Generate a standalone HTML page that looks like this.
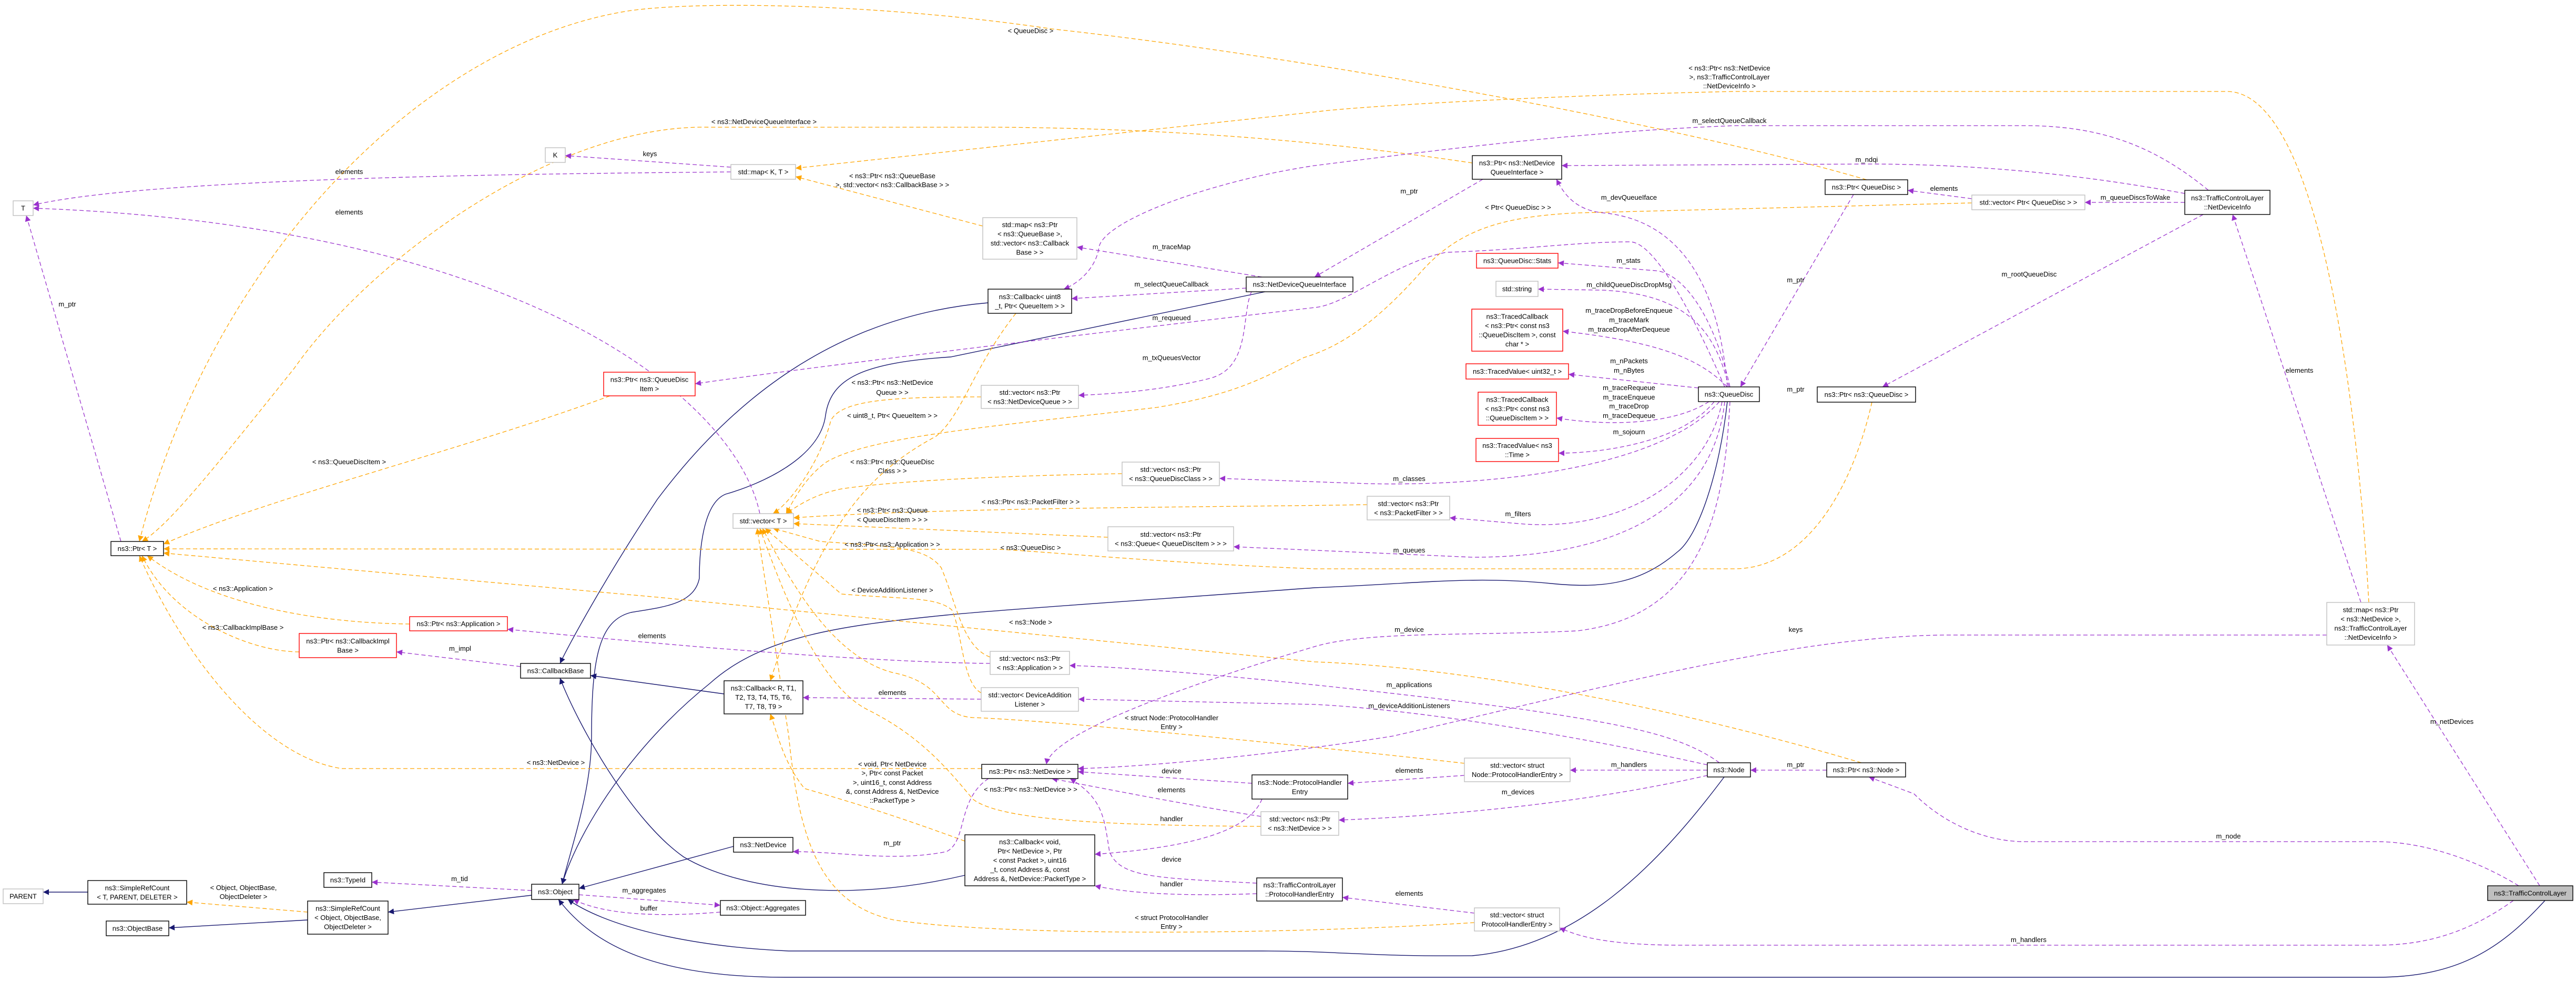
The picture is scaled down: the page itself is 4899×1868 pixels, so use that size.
<!DOCTYPE html>
<html><head><meta charset="utf-8">
<style>
html,body{margin:0;padding:0;background:#fff;}
svg{display:block;}
text{font-family:"Liberation Sans",Arial,sans-serif;font-size:13px;fill:#000;}
.n text{text-anchor:middle;}
.l{text-anchor:middle;}
.p{fill:none;stroke:#9a32cd;stroke-width:1.3;stroke-dasharray:8,5;marker-end:url(#mp);}
.o{fill:none;stroke:#ffa500;stroke-width:1.3;stroke-dasharray:8,5;marker-end:url(#mo);}
.b{fill:none;stroke:#191970;stroke-width:1.4;marker-end:url(#mb);}
.k{fill:#fff;stroke:#000;stroke-width:1.4;}
.g{fill:#fff;stroke:#bfbfbf;stroke-width:1.4;}
.r{fill:#fff;stroke:#ff0000;stroke-width:1.4;}
</style></head>
<body>
<svg width="4899" height="1868" viewBox="0 0 4899 1868" xmlns="http://www.w3.org/2000/svg">
<defs>
<marker id="mp" viewBox="0 0 10 10" refX="10" refY="5" markerWidth="14" markerHeight="11" markerUnits="userSpaceOnUse" orient="auto"><path d="M0,0L10,5L0,10z" fill="#9a32cd"/></marker>
<marker id="mo" viewBox="0 0 10 10" refX="10" refY="5" markerWidth="14" markerHeight="11" markerUnits="userSpaceOnUse" orient="auto"><path d="M0,0L10,5L0,10z" fill="#ffa500"/></marker>
<marker id="mb" viewBox="0 0 10 10" refX="10" refY="5" markerWidth="14" markerHeight="11" markerUnits="userSpaceOnUse" orient="auto"><path d="M0,0L10,5L0,10z" fill="#191970"/></marker>
</defs>
<rect width="4899" height="1868" fill="#fff"/>

<!-- navy inheritance edges -->
<path class="b" d="M167,1697 L82,1697"/>
<path class="b" d="M585,1750 L321,1765"/>
<path class="b" d="M1011,1703 L738,1735"/>
<path class="b" d="M1879,576 C1600,600 1400,750 1250,950 C1150,1100 1080,1230 1065,1262"/>
<path class="b" d="M1377,1320 L1123,1285"/>
<path class="b" d="M1835,1665 C1600,1720 1400,1690 1300,1630 C1200,1560 1100,1380 1065,1290"/>
<path class="b" d="M2406,555 L1808,679 C1640,690 1580,720 1570,790 C1560,870 1450,920 1380,940 C1330,960 1330,1080 1330,1100 C1320,1150 1260,1155 1200,1165 C1140,1180 1125,1250 1125,1400 C1125,1500 1090,1600 1069,1682"/>
<path class="b" d="M3285,764 C3270,900 3230,1020 3190,1050 C3120,1110 3050,1120 2950,1110 C2800,1095 2700,1110 2500,1118 C2200,1140 1900,1160 1800,1170 C1600,1190 1450,1210 1350,1300 C1200,1420 1100,1580 1069,1682"/>
<path class="b" d="M1395,1610 L1101,1690"/>
<path class="b" d="M3279,1478 C3150,1650 3000,1800 2800,1818 C2600,1820 2550,1809 2400,1809 L1500,1809 C1300,1800 1150,1760 1080,1711"/>
<path class="b" d="M4840,1713 C4760,1800 4680,1859 4520,1859 L1500,1859 C1250,1860 1130,1800 1062,1711"/>

<!-- orange template edges -->
<path class="o" d="M2800,310 C2600,280 2300,245 1900,242 L1350,242 C1050,235 700,500 560,700 C400,900 320,1000 270,1030"/>
<path class="o" d="M3550,342 C3200,240 2500,110 2000,55 C1700,10 1350,0 1200,20 C800,80 400,500 265,1030"/>
<path class="o" d="M1160,753 C900,850 500,950 311,1035"/>
<path class="o" d="M3560,765 C3530,900 3450,1080 3300,1082 L2500,1082 C2200,1070 2000,1050 1900,1045 L311,1044"/>
<path class="o" d="M3540,1451 C3200,1350 2800,1270 2500,1259 L1250,1136 L311,1052"/>
<path class="o" d="M779,1187 C600,1185 400,1150 280,1057"/>
<path class="o" d="M569,1240 C480,1240 330,1180 270,1057"/>
<path class="o" d="M1867,1462 L650,1462 C500,1440 350,1250 265,1057"/>
<path class="o" d="M1869,430 L1513,336"/>
<path class="o" d="M4505,1146 C4480,700 4400,174 4235,174 L3300,174 C3000,180 2600,200 2500,213 L1513,320"/>
<path class="o" d="M1866,755 C1700,755 1600,760 1580,800 C1560,880 1500,960 1470,977"/>
<path class="o" d="M1932,596 C1850,700 1830,790 1780,830 C1650,900 1560,1000 1465,1295"/>
<path class="o" d="M2134,901 C1900,905 1700,915 1600,930 C1550,940 1520,960 1495,977"/>
<path class="o" d="M2600,960 C2300,965 1800,965 1509,985"/>
<path class="o" d="M2107,1022 L1509,996"/>
<path class="o" d="M3750,386 L3000,405 C2850,412 2770,440 2700,520 C2620,610 2550,660 2480,680 C2400,720 2350,750 2200,775 C1900,810 1650,830 1570,880 C1530,910 1510,950 1495,977"/>
<path class="o" d="M1883,1250 C1830,1230 1820,1150 1790,1080 C1760,1040 1700,1040 1560,1030 L1470,1005"/>
<path class="o" d="M1866,1318 C1830,1300 1830,1200 1810,1160 C1780,1135 1720,1140 1600,1130 L1455,1005"/>
<path class="o" d="M2785,1452 C2500,1420 2000,1370 1850,1365 C1780,1360 1800,1300 1700,1280 C1580,1250 1500,1100 1450,1005"/>
<path class="o" d="M2398,1572 C2100,1570 1900,1560 1850,1520 C1800,1460 1750,1400 1650,1350 C1550,1300 1480,1100 1445,1005"/>
<path class="o" d="M2804,1755 C2400,1780 1900,1780 1700,1750 C1560,1720 1520,1600 1500,1400 L1440,1005"/>
<path class="o" d="M1835,1600 C1700,1550 1600,1520 1530,1500 C1490,1450 1480,1400 1465,1358"/>
<path class="o" d="M585,1735 L355,1716"/>

<!-- purple member edges -->
<path class="p" d="M1390,327 C1100,330 300,335 63,390"/>
<path class="p" d="M1445,977 C1400,760 1000,430 63,396"/>
<path class="p" d="M1390,318 L1075,296"/>
<path class="p" d="M230,1030 L50,410"/>
<path class="p" d="M2400,527 L2048,470"/>
<path class="p" d="M2370,548 L2038,568"/>
<path class="p" d="M4200,362 C4100,280 4000,239 3850,239 L3300,239 C3000,250 2700,290 2500,315 C2300,345 2100,420 2090,470 C2085,510 2050,540 2023,550"/>
<path class="p" d="M3280,736 C3230,620 3150,460 3100,460 C3000,460 2900,475 2750,480 C2650,500 2560,580 2500,585 C2200,620 1600,690 1322,730"/>
<path class="p" d="M2380,555 C2360,600 2380,700 2300,720 C2200,745 2100,750 2051,752"/>
<path class="p" d="M3285,736 C3270,550 3200,420 3050,405 C2990,400 2970,360 2960,341"/>
<path class="p" d="M2820,341 L2500,527"/>
<path class="p" d="M4155,368 C4000,340 3800,312 3550,312 L2970,315"/>
<path class="p" d="M3750,378 L3628,362"/>
<path class="p" d="M3525,370 L3310,736"/>
<path class="p" d="M4155,385 L3965,385"/>
<path class="p" d="M4190,408 L3580,736"/>
<path class="p" d="M4490,1146 L4246,408"/>
<path class="p" d="M3290,736 C3260,600 3200,520 3150,515 L2963,500"/>
<path class="p" d="M3288,736 C3260,620 3200,560 3050,552 L2925,550"/>
<path class="p" d="M3285,736 C3230,680 3150,650 2972,630"/>
<path class="p" d="M3230,738 L2983,712"/>
<path class="p" d="M3250,764 C3180,810 3050,810 2960,795"/>
<path class="p" d="M3260,764 C3200,840 3050,862 2964,862"/>
<path class="p" d="M3270,764 C3150,900 2800,925 2600,920 L2319,910"/>
<path class="p" d="M3275,764 C3250,900 3100,1010 2900,997 L2757,985"/>
<path class="p" d="M3280,764 C3260,950 3100,1060 2800,1060 L2346,1040"/>
<path class="p" d="M3290,764 C3280,950 3250,1170 3000,1200 C2800,1210 2600,1200 2500,1230 C2300,1290 2000,1390 1990,1454"/>
<path class="p" d="M4425,1208 L3700,1208 C3400,1210 3000,1320 2650,1400 C2400,1440 2150,1460 2050,1462"/>
<path class="p" d="M3270,1451 C3200,1400 3100,1380 2900,1350 C2600,1310 2200,1270 2034,1266"/>
<path class="p" d="M3247,1455 C3000,1400 2700,1350 2500,1340 L2051,1330"/>
<path class="p" d="M3247,1465 L2986,1465"/>
<path class="p" d="M2785,1475 L2563,1490"/>
<path class="p" d="M3247,1475 C3050,1520 2800,1550 2546,1560"/>
<path class="p" d="M3474,1465 L3329,1465"/>
<path class="p" d="M4790,1685 C4700,1630 4600,1601 4520,1601 L3850,1601 C3780,1601 3700,1570 3640,1510 L3554,1478"/>
<path class="p" d="M4780,1713 C4700,1770 4620,1798 4520,1798 L3200,1798 C3050,1798 3000,1780 2966,1765"/>
<path class="p" d="M4830,1685 L4540,1227"/>
<path class="p" d="M2804,1737 L2553,1707"/>
<path class="p" d="M2381,1490 L2050,1468"/>
<path class="p" d="M2398,1553 C2250,1530 2100,1500 2000,1481"/>
<path class="p" d="M2400,1520 C2380,1570 2300,1610 2082,1625"/>
<path class="p" d="M2390,1680 C2200,1670 2130,1670 2110,1620 C2100,1560 2100,1520 2035,1481"/>
<path class="p" d="M2390,1700 C2250,1705 2150,1700 2082,1685"/>
<path class="p" d="M1880,1481 C1820,1520 1840,1600 1800,1620 C1700,1640 1600,1620 1508,1620"/>
<path class="p" d="M1866,1330 L1527,1327"/>
<path class="p" d="M1883,1262 C1700,1260 1400,1240 965,1197"/>
<path class="p" d="M990,1268 L754,1240"/>
<path class="p" d="M1011,1694 L707,1678"/>
<path class="p" d="M1101,1702 L1370,1722"/>
<path class="p" d="M1370,1735 C1250,1745 1150,1740 1090,1711"/>

<!-- edge labels -->
<g class="l">
<text x="664" y="331">elements</text>
<text x="664" y="408">elements</text>
<text x="1236" y="297">keys</text>
<text x="128" y="583">m_ptr</text>
<text x="2228" y="474">m_traceMap</text>
<text x="2228" y="545">m_selectQueueCallback</text>
<text x="2228" y="609">m_requeued</text>
<text x="2228" y="685">m_txQueuesVector</text>
<text x="3289" y="234">m_selectQueueCallback</text>
<text x="2680" y="368">m_ptr</text>
<text x="3550" y="308">m_ndqi</text>
<text x="3697" y="363">elements</text>
<text x="3098" y="380">m_devQueueIface</text>
<text x="3097" y="500">m_stats</text>
<text x="3098" y="546">m_childQueueDiscDropMsg</text>
<text x="3098" y="595">m_traceDropBeforeEnqueue</text>
<text x="3098" y="613">m_traceMark</text>
<text x="3098" y="631">m_traceDropAfterDequeue</text>
<text x="3415" y="537">m_ptr</text>
<text x="3098" y="691">m_nPackets</text>
<text x="3098" y="709">m_nBytes</text>
<text x="3415" y="745">m_ptr</text>
<text x="3098" y="742">m_traceRequeue</text>
<text x="3098" y="760">m_traceEnqueue</text>
<text x="3098" y="777">m_traceDrop</text>
<text x="3098" y="795">m_traceDequeue</text>
<text x="3098" y="826">m_sojourn</text>
<text x="2680" y="915">m_classes</text>
<text x="4061" y="380">m_queueDiscsToWake</text>
<text x="3859" y="526">m_rootQueueDisc</text>
<text x="4373" y="709">elements</text>
<text x="2887" y="982">m_filters</text>
<text x="2680" y="1051">m_queues</text>
<text x="2680" y="1202">m_device</text>
<text x="3415" y="1202">keys</text>
<text x="2680" y="1307">m_applications</text>
<text x="2680" y="1347">m_deviceAdditionListeners</text>
<text x="3098" y="1459">m_handlers</text>
<text x="3415" y="1459">m_ptr</text>
<text x="2680" y="1470">elements</text>
<text x="2887" y="1511">m_devices</text>
<text x="2680" y="1704">elements</text>
<text x="4663" y="1377">m_netDevices</text>
<text x="4238" y="1595">m_node</text>
<text x="3858" y="1792">m_handlers</text>
<text x="2228" y="1471">device</text>
<text x="2228" y="1507">elements</text>
<text x="2228" y="1562">handler</text>
<text x="1697" y="1608">m_ptr</text>
<text x="2228" y="1639">device</text>
<text x="2228" y="1686">handler</text>
<text x="1697" y="1322">elements</text>
<text x="1240" y="1214">elements</text>
<text x="875" y="1238">m_impl</text>
<text x="874" y="1676">m_tid</text>
<text x="1225" y="1698">m_aggregates</text>
<text x="1234" y="1732">buffer</text>

<text x="1960" y="63">&lt; QueueDisc &gt;</text>
<text x="1453" y="236">&lt; ns3::NetDeviceQueueInterface &gt;</text>
<text x="664" y="883">&lt; ns3::QueueDiscItem &gt;</text>
<text x="1697" y="339">&lt; ns3::Ptr&lt; ns3::QueueBase</text>
<text x="1697" y="356">&gt;, std::vector&lt; ns3::CallbackBase &gt; &gt;</text>
<text x="1697" y="732">&lt; ns3::Ptr&lt; ns3::NetDevice</text>
<text x="1697" y="751">Queue &gt; &gt;</text>
<text x="1697" y="795">&lt; uint8_t, Ptr&lt; QueueItem &gt; &gt;</text>
<text x="1697" y="883">&lt; ns3::Ptr&lt; ns3::QueueDisc</text>
<text x="1697" y="900">Class &gt; &gt;</text>
<text x="1960" y="959">&lt; ns3::Ptr&lt; ns3::PacketFilter &gt; &gt;</text>
<text x="1697" y="975">&lt; ns3::Ptr&lt; ns3::Queue</text>
<text x="1697" y="993">&lt; QueueDiscItem &gt; &gt; &gt;</text>
<text x="1697" y="1040">&lt; ns3::Ptr&lt; ns3::Application &gt; &gt;</text>
<text x="1960" y="1046">&lt; ns3::QueueDisc &gt;</text>
<text x="1697" y="1127">&lt; DeviceAdditionListener &gt;</text>
<text x="1960" y="1188">&lt; ns3::Node &gt;</text>
<text x="2228" y="1370">&lt; struct Node::ProtocolHandler</text>
<text x="2228" y="1387">Entry &gt;</text>
<text x="1697" y="1458">&lt; void, Ptr&lt; NetDevice</text>
<text x="1697" y="1475">&gt;, Ptr&lt; const Packet</text>
<text x="1697" y="1493">&gt;, uint16_t, const Address</text>
<text x="1697" y="1510">&amp;, const Address &amp;, NetDevice</text>
<text x="1697" y="1527">::PacketType &gt;</text>
<text x="1960" y="1506">&lt; ns3::Ptr&lt; ns3::NetDevice &gt; &gt;</text>
<text x="2228" y="1750">&lt; struct ProtocolHandler</text>
<text x="2228" y="1767">Entry &gt;</text>
<text x="462" y="1124">&lt; ns3::Application &gt;</text>
<text x="462" y="1198">&lt; ns3::CallbackImplBase &gt;</text>
<text x="1057" y="1455">&lt; ns3::NetDevice &gt;</text>
<text x="463" y="1693">&lt; Object, ObjectBase,</text>
<text x="463" y="1710">ObjectDeleter &gt;</text>
<text x="3289" y="134">&lt; ns3::Ptr&lt; ns3::NetDevice</text>
<text x="3289" y="151">&gt;, ns3::TrafficControlLayer</text>
<text x="3289" y="168">::NetDeviceInfo &gt;</text>
<text x="2887" y="399">&lt; Ptr&lt; QueueDisc &gt; &gt;</text>
</g>

<!-- nodes -->
<g class="n">
<rect class="g" x="25" y="382" width="38" height="28"/><text x="44" y="400.5">T</text>
<rect class="g" x="1037" y="281" width="38" height="28"/><text x="1056" y="299.5">K</text>
<rect class="g" x="1390" y="313" width="123" height="28"/><text x="1451.5" y="331.5">std::map&lt; K, T &gt;</text>
<rect class="g" x="1869" y="414" width="179" height="79"/><text x="1958.5" y="431.75">std::map&lt; ns3::Ptr</text><text x="1958.5" y="449.25">&lt; ns3::QueueBase &gt;,</text><text x="1958.5" y="466.75">std::vector&lt; ns3::Callback</text><text x="1958.5" y="484.25">Base &gt; &gt;</text>
<rect class="r" x="1148" y="708" width="174" height="45"/><text x="1235" y="726.25">ns3::Ptr&lt; ns3::QueueDisc</text><text x="1235" y="743.75">Item &gt;</text>
<rect class="k" x="1879" y="550" width="159" height="46"/><text x="1958.5" y="568.75">ns3::Callback&lt; uint8</text><text x="1958.5" y="586.25">_t, Ptr&lt; QueueItem &gt; &gt;</text>
<rect class="k" x="2370" y="527" width="203" height="28"/><text x="2471.5" y="545.5">ns3::NetDeviceQueueInterface</text>
<rect class="g" x="1866" y="733" width="185" height="44"/><text x="1958.5" y="750.75">std::vector&lt; ns3::Ptr</text><text x="1958.5" y="768.25">&lt; ns3::NetDeviceQueue &gt; &gt;</text>
<rect class="g" x="2134" y="879" width="185" height="45"/><text x="2226.5" y="897.25">std::vector&lt; ns3::Ptr</text><text x="2226.5" y="914.75">&lt; ns3::QueueDiscClass &gt; &gt;</text>
<rect class="g" x="1394" y="977" width="115" height="28"/><text x="1451.5" y="995.5">std::vector&lt; T &gt;</text>
<rect class="g" x="2107" y="1002" width="239" height="46"/><text x="2226.5" y="1020.75">std::vector&lt; ns3::Ptr</text><text x="2226.5" y="1038.25">&lt; ns3::Queue&lt; QueueDiscItem &gt; &gt; &gt;</text>
<rect class="k" x="211" y="1030" width="100" height="27"/><text x="261" y="1048">ns3::Ptr&lt; T &gt;</text>
<rect class="r" x="779" y="1173" width="186" height="27"/><text x="872" y="1191">ns3::Ptr&lt; ns3::Application &gt;</text>
<rect class="r" x="569" y="1205" width="185" height="46"/><text x="661.5" y="1223.75">ns3::Ptr&lt; ns3::CallbackImpl</text><text x="661.5" y="1241.25">Base &gt;</text>
<rect class="k" x="990" y="1262" width="133" height="28"/><text x="1056.5" y="1280.5">ns3::CallbackBase</text>
<rect class="g" x="1883" y="1239" width="151" height="44"/><text x="1958.5" y="1256.75">std::vector&lt; ns3::Ptr</text><text x="1958.5" y="1274.25">&lt; ns3::Application &gt; &gt;</text>
<rect class="k" x="1377" y="1295" width="150" height="63"/><text x="1452" y="1313.5">ns3::Callback&lt; R, T1,</text><text x="1452" y="1331">T2, T3, T4, T5, T6,</text><text x="1452" y="1348.5">T7, T8, T9 &gt;</text>
<rect class="g" x="1866" y="1308" width="185" height="45"/><text x="1958.5" y="1326.25">std::vector&lt; DeviceAddition</text><text x="1958.5" y="1343.75">Listener &gt;</text>
<rect class="k" x="1867" y="1454" width="183" height="27"/><text x="1958.5" y="1472">ns3::Ptr&lt; ns3::NetDevice &gt;</text>
<rect class="k" x="2381" y="1474" width="182" height="46"/><text x="2472" y="1492.75">ns3::Node::ProtocolHandler</text><text x="2472" y="1510.25">Entry</text>
<rect class="g" x="2398" y="1544" width="148" height="45"/><text x="2472" y="1562.25">std::vector&lt; ns3::Ptr</text><text x="2472" y="1579.75">&lt; ns3::NetDevice &gt; &gt;</text>
<rect class="k" x="1395" y="1593" width="113" height="28"/><text x="1451.5" y="1611.5">ns3::NetDevice</text>
<rect class="k" x="1835" y="1588" width="247" height="97"/><text x="1958.5" y="1606">ns3::Callback&lt; void,</text><text x="1958.5" y="1623.5">Ptr&lt; NetDevice &gt;, Ptr</text><text x="1958.5" y="1641">&lt; const Packet &gt;, uint16</text><text x="1958.5" y="1658.5">_t, const Address &amp;, const</text><text x="1958.5" y="1676">Address &amp;, NetDevice::PacketType &gt;</text>
<rect class="k" x="2390" y="1670" width="163" height="44"/><text x="2471.5" y="1687.75">ns3::TrafficControlLayer</text><text x="2471.5" y="1705.25">::ProtocolHandlerEntry</text>
<rect class="k" x="1370" y="1713" width="162" height="28"/><text x="1451" y="1731.5">ns3::Object::Aggregates</text>
<rect class="g" x="6" y="1691" width="76" height="28"/><text x="44" y="1709.5">PARENT</text>
<rect class="k" x="167" y="1675" width="188" height="45"/><text x="261" y="1693.25">ns3::SimpleRefCount</text><text x="261" y="1710.75">&lt; T, PARENT, DELETER &gt;</text>
<rect class="k" x="202" y="1752" width="119" height="28"/><text x="261.5" y="1770.5">ns3::ObjectBase</text>
<rect class="k" x="585" y="1714" width="153" height="63"/><text x="661.5" y="1732.5">ns3::SimpleRefCount</text><text x="661.5" y="1750">&lt; Object, ObjectBase,</text><text x="661.5" y="1767.5">ObjectDeleter &gt;</text>
<rect class="k" x="616" y="1660" width="91" height="28"/><text x="661.5" y="1678.5">ns3::TypeId</text>
<rect class="k" x="1011" y="1682" width="90" height="29"/><text x="1056" y="1701">ns3::Object</text>
<rect class="k" x="2800" y="296" width="170" height="45"/><text x="2885" y="314.25">ns3::Ptr&lt; ns3::NetDevice</text><text x="2885" y="331.75">QueueInterface &gt;</text>
<rect class="k" x="3471" y="342" width="157" height="28"/><text x="3549.5" y="360.5">ns3::Ptr&lt; QueueDisc &gt;</text>
<rect class="r" x="2808" y="482" width="155" height="28"/><text x="2885.5" y="500.5">ns3::QueueDisc::Stats</text>
<rect class="g" x="2845" y="535" width="80" height="29"/><text x="2885" y="554">std::string</text>
<rect class="r" x="2799" y="588" width="173" height="80"/><text x="2885.5" y="606.25">ns3::TracedCallback</text><text x="2885.5" y="623.75">&lt; ns3::Ptr&lt; const ns3</text><text x="2885.5" y="641.25">::QueueDiscItem &gt;, const</text><text x="2885.5" y="658.75">char * &gt;</text>
<rect class="r" x="2788" y="692" width="195" height="29"/><text x="2885.5" y="711">ns3::TracedValue&lt; uint32_t &gt;</text>
<rect class="k" x="3230" y="736" width="116" height="28"/><text x="3288" y="754.5">ns3::QueueDisc</text>
<rect class="k" x="3456" y="736" width="187" height="29"/><text x="3549.5" y="755">ns3::Ptr&lt; ns3::QueueDisc &gt;</text>
<rect class="r" x="2811" y="746" width="149" height="63"/><text x="2885.5" y="764.5">ns3::TracedCallback</text><text x="2885.5" y="782">&lt; ns3::Ptr&lt; const ns3</text><text x="2885.5" y="799.5">::QueueDiscItem &gt; &gt;</text>
<rect class="r" x="2807" y="834" width="157" height="44"/><text x="2885.5" y="851.75">ns3::TracedValue&lt; ns3</text><text x="2885.5" y="869.25">::Time &gt;</text>
<rect class="g" x="2600" y="944" width="157" height="45"/><text x="2678.5" y="962.25">std::vector&lt; ns3::Ptr</text><text x="2678.5" y="979.75">&lt; ns3::PacketFilter &gt; &gt;</text>
<rect class="g" x="2785" y="1442" width="201" height="45"/><text x="2885.5" y="1460.25">std::vector&lt; struct</text><text x="2885.5" y="1477.75">Node::ProtocolHandlerEntry &gt;</text>
<rect class="k" x="3247" y="1451" width="82" height="27"/><text x="3288" y="1469">ns3::Node</text>
<rect class="k" x="3474" y="1451" width="150" height="27"/><text x="3549" y="1469">ns3::Ptr&lt; ns3::Node &gt;</text>
<rect class="g" x="2804" y="1727" width="162" height="44"/><text x="2885" y="1744.75">std::vector&lt; struct</text><text x="2885" y="1762.25">ProtocolHandlerEntry &gt;</text>
<rect class="g" x="3750" y="371" width="215" height="28"/><text x="3857.5" y="389.5">std::vector&lt; Ptr&lt; QueueDisc &gt; &gt;</text>
<rect class="k" x="4155" y="362" width="162" height="46"/><text x="4236" y="380.75">ns3::TrafficControlLayer</text><text x="4236" y="398.25">::NetDeviceInfo</text>
<rect class="g" x="4425" y="1146" width="167" height="81"/><text x="4508.5" y="1164.25">std::map&lt; ns3::Ptr</text><text x="4508.5" y="1181.75">&lt; ns3::NetDevice &gt;,</text><text x="4508.5" y="1199.25">ns3::TrafficControlLayer</text><text x="4508.5" y="1216.75">::NetDeviceInfo &gt;</text>
<rect x="4731" y="1685" width="162" height="28" fill="#bfbfbf" stroke="#000" stroke-width="1.4"/><text x="4812" y="1703.5">ns3::TrafficControlLayer</text>
</g>
</svg>
</body></html>
